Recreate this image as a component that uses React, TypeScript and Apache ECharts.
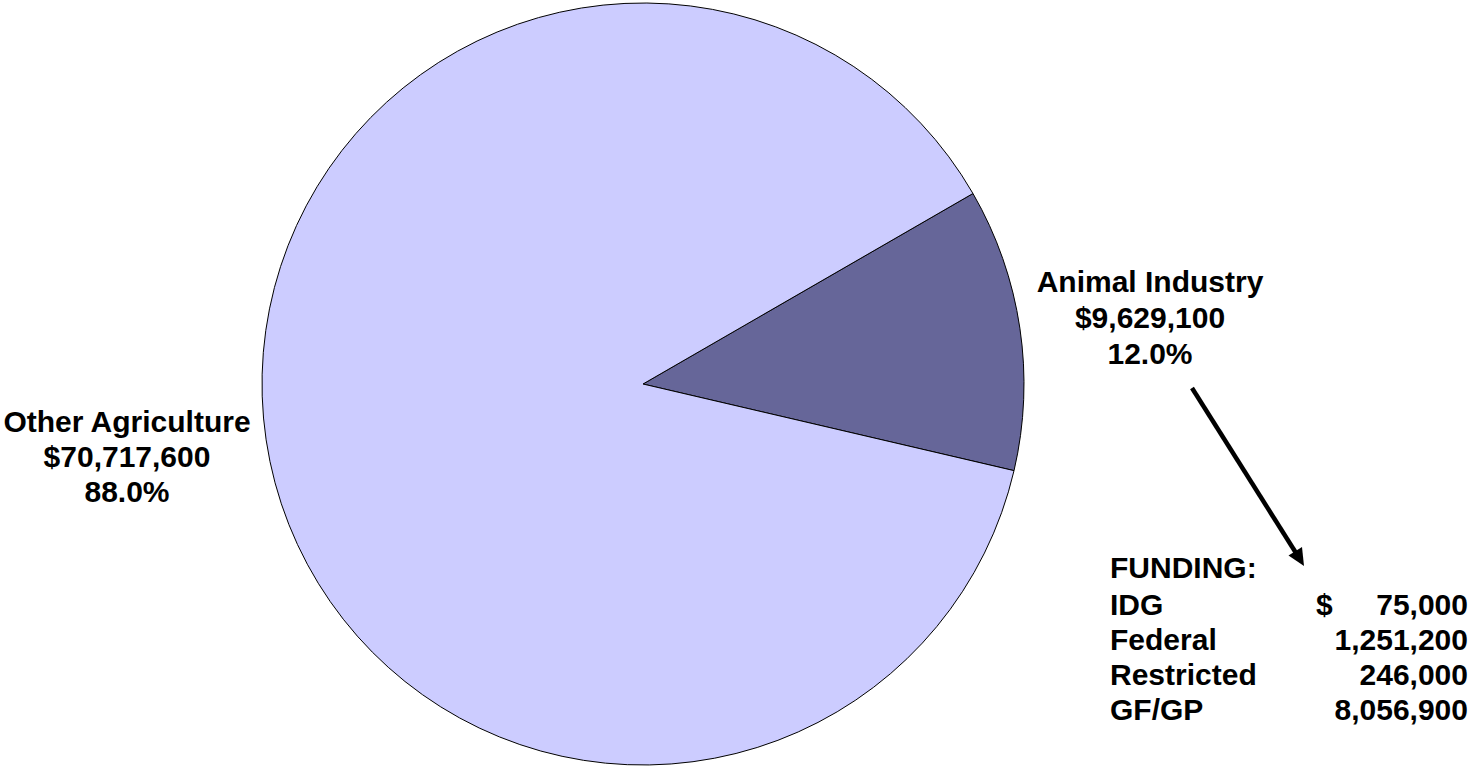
import React, { useEffect, useRef } from "react";
import * as echarts from "echarts";

const categories = ["Animal Industry", "Other Agriculture"];
const values = [9629100, 70717600];
const colors = ["#666699", "#CCCCFF"];

const fundingTitle = "FUNDING:";
const fundingSources = ["IDG", "Federal", "Restricted", "GF/GP"];
const fundingAmounts = [75000, 1251200, 246000, 8056900];

const FONT = "Arial, 'Liberation Sans', sans-serif";
const fmt = (v: number) => v.toLocaleString("en-US");

export default function App() {
  const ref = useRef<HTMLDivElement>(null);
  useEffect(() => {
    document.body.style.margin = "0";
    const chart = echarts.init(ref.current!, null, { renderer: "svg" });
    const total = values.reduce((a, b) => a + b, 0);
    const pct = (v: number) => ((v / total) * 100).toFixed(1) + "%";
    const labelText = (i: number) =>
      `${categories[i]}\n$${fmt(values[i])}\n${pct(values[i])}`;
    const textStyle = (extra: any) => ({
      fontFamily: FONT,
      fontWeight: "bold",
      fontSize: 30,
      fill: "#000",
      ...extra,
    });
    const rowY = [567, 604, 639, 674, 709];
    const graphic: any[] = [
      {
        type: "text",
        x: 1150,
        y: 317,
        style: textStyle({ text: labelText(0), align: "center", verticalAlign: "middle", lineHeight: 36 }),
      },
      {
        type: "text",
        x: 127,
        y: 456,
        style: textStyle({ text: labelText(1), align: "center", verticalAlign: "middle", lineHeight: 35 }),
      },
      {
        type: "line",
        shape: { x1: 1192, y1: 388, x2: 1296, y2: 553 },
        style: { stroke: "#000", lineWidth: 4.5 },
      },
      {
        type: "polygon",
        shape: { points: [[1288.5, 555.5], [1302, 547], [1304, 566]] },
        style: { fill: "#000" },
      },
      {
        type: "text",
        x: 1110,
        y: rowY[0],
        style: textStyle({ text: fundingTitle, align: "left", verticalAlign: "middle" }),
      },
    ];
    fundingSources.forEach((s, i) => {
      graphic.push({
        type: "text",
        x: 1110,
        y: rowY[i + 1],
        style: textStyle({ text: s, align: "left", verticalAlign: "middle" }),
      });
      graphic.push({
        type: "text",
        x: 1468,
        y: rowY[i + 1],
        style: textStyle({ text: fmt(fundingAmounts[i]), align: "right", verticalAlign: "middle" }),
      });
    });
    graphic.push({
      type: "text",
      x: 1316,
      y: rowY[1],
      style: textStyle({ text: "$", align: "left", verticalAlign: "middle" }),
    });

    chart.setOption({
      animation: false,
      backgroundColor: "#ffffff",
      series: [
        {
          type: "pie",
          center: [643, 384],
          radius: 381,
          startAngle: 30,
          clockwise: true,
          label: { show: false },
          labelLine: { show: false },
          emphasis: { disabled: true },
          itemStyle: { borderColor: "#000", borderWidth: 1 },
          data: categories.map((c, i) => ({
            name: c,
            value: values[i],
            itemStyle: { color: colors[i] },
          })),
        },
      ],
      graphic,
    });
    return () => chart.dispose();
  }, []);
  return <div ref={ref} style={{ width: 1471, height: 768 }} />;
}
